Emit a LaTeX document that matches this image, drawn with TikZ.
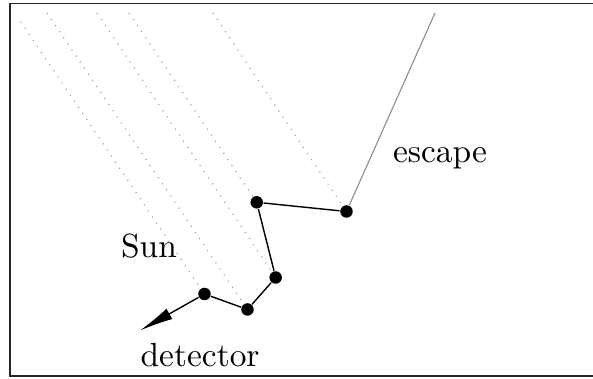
\documentclass[tikz,border=0pt]{standalone}
\usetikzlibrary{arrows.meta}
\begin{document}
\begin{tikzpicture}[x=0.32pt,y=-0.32pt,
  pt/.style={circle,fill=black,inner sep=0pt,minimum size=4pt},
  ray/.style={gray!80,dotted,line width=0.35pt},
  hop/.style={black,line width=0.45pt},
  lbl/.style={anchor=base west,inner sep=0pt,font=\fontsize{10.7}{12}\selectfont}]
\useasboundingbox (0,0) rectangle (593,379);
\begin{scope}
\clip (0,0) rectangle (593,379);
\draw[line width=0.6pt,black!85] (600,3.5) -- (10,3.5) -- (10,376) -- (600,376);
\end{scope}
\node[pt] (p1) at (346.5,211.5) {};
\node[pt] (p2) at (256.7,202.3) {};
\node[pt] (p3) at (275.7,277.5) {};
\node[pt] (p4) at (247.5,309.5) {};
\node[pt] (p5) at (204.5,294) {};
\coordinate (t1) at (213,13);
\coordinate (t2) at (129,13);
\coordinate (t3) at (97,13);
\coordinate (t4) at (47,13);
\coordinate (t5) at (20.7,21.7);
\coordinate (esc) at (435,13);
\coordinate (det) at (140,330.5);
\draw[ray] (t1) -- (p1);
\draw[ray] (t2) -- (p2);
\draw[ray] (t3) -- (p3);
\draw[ray] (t4) -- (p4);
\draw[ray] (t5) -- (p5);
\draw[gray!90,line width=0.35pt] (p1) -- (esc);
\draw[hop] (p1) -- (p2) -- (p3) -- (p4) -- (p5);
\draw[hop,-{Latex[length=10.8pt,width=3.8pt]}] (p5) -- (det);
\node[lbl] (escape) at (392.5,163) {escape};
\node[lbl] (sun) at (120.5,258) {Sun};
\node[lbl] (detector) at (140,366.5) {detector};
\end{tikzpicture}
\end{document}
